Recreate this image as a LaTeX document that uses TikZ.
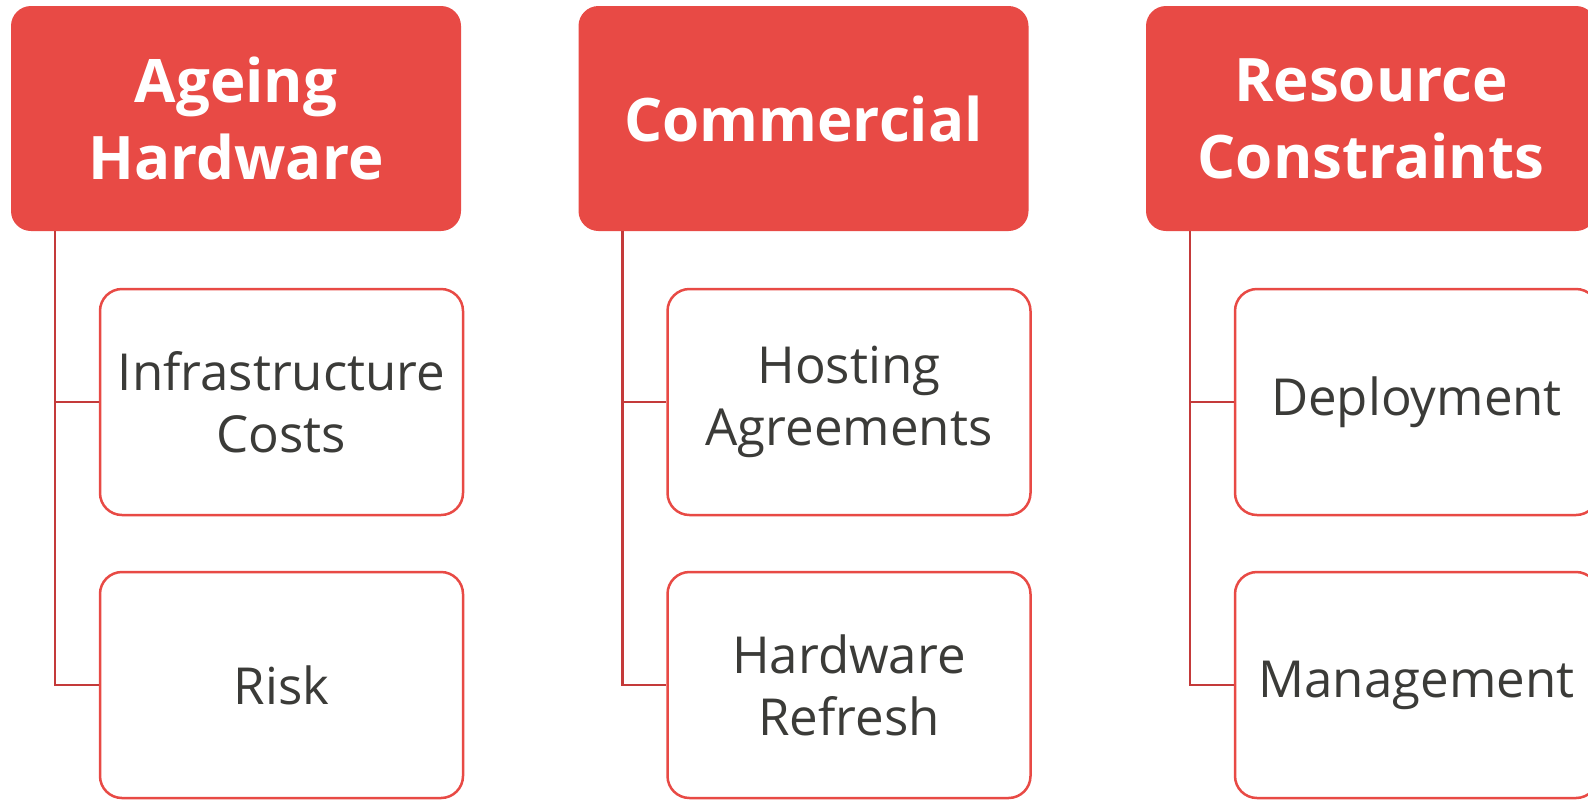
\documentclass[tikz,border=0pt]{standalone}
\usepackage{fontspec}
\setmainfont{Open Sans}
\usetikzlibrary{positioning}
\definecolor{hdr_red}{RGB}{232, 74, 69}
\definecolor{line_red}{RGB}{196, 58, 58}
\definecolor{txt_grey}{RGB}{59, 59, 56}
\tikzset{
  hdrbox/.style = {align=center, rectangle, rounded corners=10pt, fill=hdr_red, draw=none,
  text=white, minimum width=225pt, minimum height=112.5pt, inner sep=0pt,
  font=\fontsize{30}{38.5}\selectfont\bfseries},
  itembox/.style = {align=center, rectangle, rounded corners=11pt, draw=hdr_red, line width=1.25pt,
  fill=white, text=txt_grey, minimum width=181.5pt, minimum height=113pt, inner sep=0pt,
  font=\fontsize{25.5}{31}\selectfont},
  link/.style = {draw=line_red, line width=1.2pt}
}

\begin{document}
\begin{tikzpicture}[x=0.5pt,y=-0.5pt]
  \useasboundingbox (0,0) rectangle (1588,799);
  % headers
  \node [hdrbox] (hdr1) at (236,118.5) {Ageing\\Hardware};
  \node [hdrbox] (hdr2) at (803.5,118.5) {Commercial};
  \node [hdrbox] (hdr3) at (1371,118.5) {Resource\\Constraints};
  % items
  \node [itembox] (itm11) at (281.5,402) {Infrastructure\\Costs};
  \node [itembox] (itm12) at (281.5,685) {Risk};
  \node [itembox] (itm21) at (849,402) {Hosting\\Agreements};
  \node [itembox] (itm22) at (849,685) {Hardware\\Refresh};
  \node [itembox] (itm31) at (1416.5,402) {Deployment};
  \node [itembox] (itm32) at (1416.5,685) {Management};
  % connectors
  \foreach \c/\lx in {1/55, 2/622.5, 3/1190} {
    \coordinate (top\c) at (\lx,231);
    \draw [link] (top\c) |- (itm\c2.west);
    \draw [link] (top\c |- itm\c1.west) -- (itm\c1.west);
  }
\end{tikzpicture}
\end{document}
